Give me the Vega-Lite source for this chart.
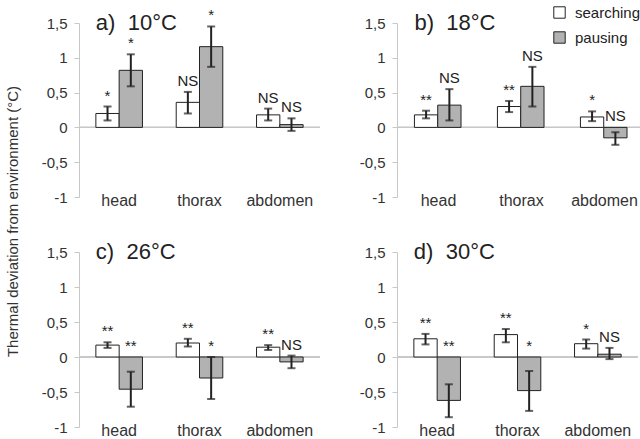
{
  "$schema": "https://vega.github.io/schema/vega-lite/v6.json",
  "background": "white",
  "padding": {"left": 6, "top": 5, "right": 0, "bottom": 0},
  "title": {"text": "Thermal deviation from environment (°C)", "orient": "left", "anchor": "middle", "fontSize": 15, "fontWeight": "normal", "color": "#333", "font": "Liberation Sans", "offset": 20},
  "config": {
    "font": "Liberation Sans",
    "view": {"stroke": null},
    "axisY": {"values": [-1, -0.5, 0, 0.5, 1, 1.5], "labelExpr": "replace(toString(datum.value), '.', ',')", "grid": false, "domainColor": "#c8c8c8", "tickColor": "#c8c8c8", "tickSize": 5, "labelFontSize": 15, "labelColor": "#333", "title": null, "labelPadding": 7},
    "axisX": {"domain": false, "ticks": false, "labelFontSize": 16, "labelColor": "#333", "title": null, "labelAngle": 0, "labelPadding": -5},
    "legend": {"orient": "none", "legendX": 473, "legendY": -18, "title": null, "symbolType": "square", "symbolSize": 130, "symbolStrokeColor": "#222", "symbolStrokeWidth": 1, "labelFontSize": 15, "labelColor": "#222", "rowPadding": 8, "labelOffset": 8, "labelLimit": 200},
    "concat": {"spacing": {"row": 33, "column": 38}}
  },
  "data": {"values": [
    {"panel": "a", "heading": "a)\u00a0\u00a010°C", "part": "head", "behaviour": "searching", "value": 0.20, "lo": 0.10, "hi": 0.30, "sig": "*"},
    {"panel": "a", "heading": "a)\u00a0\u00a010°C", "part": "head", "behaviour": "pausing", "value": 0.82, "lo": 0.59, "hi": 1.05, "sig": "*"},
    {"panel": "a", "heading": "a)\u00a0\u00a010°C", "part": "thorax", "behaviour": "searching", "value": 0.36, "lo": 0.20, "hi": 0.51, "sig": "NS"},
    {"panel": "a", "heading": "a)\u00a0\u00a010°C", "part": "thorax", "behaviour": "pausing", "value": 1.16, "lo": 0.87, "hi": 1.45, "sig": "*"},
    {"panel": "a", "heading": "a)\u00a0\u00a010°C", "part": "abdomen", "behaviour": "searching", "value": 0.18, "lo": 0.10, "hi": 0.27, "sig": "NS"},
    {"panel": "a", "heading": "a)\u00a0\u00a010°C", "part": "abdomen", "behaviour": "pausing", "value": 0.04, "lo": -0.05, "hi": 0.13, "sig": "NS"},
    {"panel": "b", "heading": "b)\u00a0\u00a018°C", "part": "head", "behaviour": "searching", "value": 0.18, "lo": 0.13, "hi": 0.24, "sig": "**"},
    {"panel": "b", "heading": "b)\u00a0\u00a018°C", "part": "head", "behaviour": "pausing", "value": 0.32, "lo": 0.10, "hi": 0.55, "sig": "NS"},
    {"panel": "b", "heading": "b)\u00a0\u00a018°C", "part": "thorax", "behaviour": "searching", "value": 0.30, "lo": 0.22, "hi": 0.38, "sig": "**"},
    {"panel": "b", "heading": "b)\u00a0\u00a018°C", "part": "thorax", "behaviour": "pausing", "value": 0.59, "lo": 0.30, "hi": 0.87, "sig": "NS"},
    {"panel": "b", "heading": "b)\u00a0\u00a018°C", "part": "abdomen", "behaviour": "searching", "value": 0.15, "lo": 0.09, "hi": 0.23, "sig": "*"},
    {"panel": "b", "heading": "b)\u00a0\u00a018°C", "part": "abdomen", "behaviour": "pausing", "value": -0.15, "lo": -0.25, "hi": -0.07, "sig": "NS"},
    {"panel": "c", "heading": "c)\u00a0\u00a026°C", "part": "head", "behaviour": "searching", "value": 0.17, "lo": 0.13, "hi": 0.21, "sig": "**"},
    {"panel": "c", "heading": "c)\u00a0\u00a026°C", "part": "head", "behaviour": "pausing", "value": -0.46, "lo": -0.71, "hi": -0.21, "sig": "**"},
    {"panel": "c", "heading": "c)\u00a0\u00a026°C", "part": "thorax", "behaviour": "searching", "value": 0.20, "lo": 0.15, "hi": 0.26, "sig": "**"},
    {"panel": "c", "heading": "c)\u00a0\u00a026°C", "part": "thorax", "behaviour": "pausing", "value": -0.30, "lo": -0.60, "hi": 0.00, "sig": "*"},
    {"panel": "c", "heading": "c)\u00a0\u00a026°C", "part": "abdomen", "behaviour": "searching", "value": 0.14, "lo": 0.10, "hi": 0.17, "sig": "**"},
    {"panel": "c", "heading": "c)\u00a0\u00a026°C", "part": "abdomen", "behaviour": "pausing", "value": -0.07, "lo": -0.16, "hi": 0.02, "sig": "NS"},
    {"panel": "d", "heading": "d)\u00a0\u00a030°C", "part": "head", "behaviour": "searching", "value": 0.26, "lo": 0.18, "hi": 0.33, "sig": "**"},
    {"panel": "d", "heading": "d)\u00a0\u00a030°C", "part": "head", "behaviour": "pausing", "value": -0.62, "lo": -0.86, "hi": -0.39, "sig": "**"},
    {"panel": "d", "heading": "d)\u00a0\u00a030°C", "part": "thorax", "behaviour": "searching", "value": 0.32, "lo": 0.21, "hi": 0.40, "sig": "**"},
    {"panel": "d", "heading": "d)\u00a0\u00a030°C", "part": "thorax", "behaviour": "pausing", "value": -0.48, "lo": -0.77, "hi": -0.20, "sig": "*"},
    {"panel": "d", "heading": "d)\u00a0\u00a030°C", "part": "abdomen", "behaviour": "searching", "value": 0.19, "lo": 0.12, "hi": 0.25, "sig": "*"},
    {"panel": "d", "heading": "d)\u00a0\u00a030°C", "part": "abdomen", "behaviour": "pausing", "value": 0.04, "lo": -0.03, "hi": 0.13, "sig": "NS"}
  ]},
  "columns": 2,
  "concat": [
    {
      "width": 241, "height": 174,
      "transform": [{"filter": "datum.panel == 'a'"}, {"calculate": "max(datum.hi, 0)", "as": "labelPos"}],
      "encoding": {
        "x": {"field": "part", "type": "nominal", "sort": ["head", "thorax", "abdomen"], "scale": {"domain": ["head", "thorax", "abdomen"], "paddingInner": 0.42, "paddingOuter": 0.21}},
        "xOffset": {"field": "behaviour", "type": "nominal", "sort": ["searching", "pausing"], "scale": {"domain": ["searching", "pausing"], "paddingInner": 0, "paddingOuter": 0}}
      },
      "layer": [
        {"mark": {"type": "rule", "color": "#c8c8c8", "strokeWidth": 1}, "encoding": {"x": null, "xOffset": null, "y": {"datum": 0, "type": "quantitative", "scale": {"domain": [-1, 1.5], "nice": false, "zero": false}}}},
        {"mark": {"type": "bar", "stroke": "#222", "strokeWidth": 1}, "encoding": {"y": {"field": "value", "type": "quantitative", "scale": {"domain": [-1, 1.5], "nice": false}}, "y2": {"datum": 0}, "fill": {"field": "behaviour", "type": "nominal", "scale": {"domain": ["searching", "pausing"], "range": ["#ffffff", "#b2b2b2"]}}}},
        {"mark": {"type": "rule", "color": "#222", "strokeWidth": 2}, "encoding": {"y": {"field": "lo", "type": "quantitative"}, "y2": {"field": "hi"}}},
        {"mark": {"type": "tick", "color": "#222", "size": 8, "thickness": 2}, "encoding": {"y": {"field": "lo", "type": "quantitative"}}},
        {"mark": {"type": "tick", "color": "#222", "size": 8, "thickness": 2}, "encoding": {"y": {"field": "hi", "type": "quantitative"}}},
        {"mark": {"type": "text", "fontSize": 15, "color": "#222", "baseline": "bottom", "dy": -3}, "encoding": {"y": {"field": "labelPos", "type": "quantitative"}, "text": {"field": "sig"}}},
        {"transform": [{"filter": "datum.part == 'head' && datum.behaviour == 'searching'"}], "mark": {"type": "text", "fontSize": 22, "color": "#222", "align": "left", "baseline": "middle", "dx": 0}, "encoding": {"x": {"field": "part", "type": "nominal", "bandPosition": 0}, "xOffset": null, "y": {"datum": 1.5, "type": "quantitative"}, "text": {"field": "heading"}}}
      ]
    },
    {
      "width": 249, "height": 174,
      "transform": [{"filter": "datum.panel == 'b'"}, {"calculate": "max(datum.hi, 0)", "as": "labelPos"}],
      "encoding": {
        "x": {"field": "part", "type": "nominal", "sort": ["head", "thorax", "abdomen"], "scale": {"domain": ["head", "thorax", "abdomen"], "paddingInner": 0.42, "paddingOuter": 0.21}},
        "xOffset": {"field": "behaviour", "type": "nominal", "sort": ["searching", "pausing"], "scale": {"domain": ["searching", "pausing"], "paddingInner": 0, "paddingOuter": 0}}
      },
      "layer": [
        {"mark": {"type": "rule", "color": "#c8c8c8", "strokeWidth": 1}, "encoding": {"x": null, "xOffset": null, "y": {"datum": 0, "type": "quantitative", "scale": {"domain": [-1, 1.5], "nice": false, "zero": false}}}},
        {"mark": {"type": "bar", "stroke": "#222", "strokeWidth": 1}, "encoding": {"y": {"field": "value", "type": "quantitative", "scale": {"domain": [-1, 1.5], "nice": false}}, "y2": {"datum": 0}, "fill": {"field": "behaviour", "type": "nominal", "scale": {"domain": ["searching", "pausing"], "range": ["#ffffff", "#b2b2b2"]}}}},
        {"mark": {"type": "rule", "color": "#222", "strokeWidth": 2}, "encoding": {"y": {"field": "lo", "type": "quantitative"}, "y2": {"field": "hi"}}},
        {"mark": {"type": "tick", "color": "#222", "size": 8, "thickness": 2}, "encoding": {"y": {"field": "lo", "type": "quantitative"}}},
        {"mark": {"type": "tick", "color": "#222", "size": 8, "thickness": 2}, "encoding": {"y": {"field": "hi", "type": "quantitative"}}},
        {"mark": {"type": "text", "fontSize": 15, "color": "#222", "baseline": "bottom", "dy": -3}, "encoding": {"y": {"field": "labelPos", "type": "quantitative"}, "text": {"field": "sig"}}},
        {"transform": [{"filter": "datum.part == 'head' && datum.behaviour == 'searching'"}], "mark": {"type": "text", "fontSize": 22, "color": "#222", "align": "left", "baseline": "middle", "dx": 0}, "encoding": {"x": {"field": "part", "type": "nominal", "bandPosition": 0}, "xOffset": null, "y": {"datum": 1.5, "type": "quantitative"}, "text": {"field": "heading"}}}
      ]
    },
    {
      "width": 241, "height": 175,
      "transform": [{"filter": "datum.panel == 'c'"}, {"calculate": "max(datum.hi, 0)", "as": "labelPos"}],
      "encoding": {
        "x": {"field": "part", "type": "nominal", "sort": ["head", "thorax", "abdomen"], "scale": {"domain": ["head", "thorax", "abdomen"], "paddingInner": 0.42, "paddingOuter": 0.21}},
        "xOffset": {"field": "behaviour", "type": "nominal", "sort": ["searching", "pausing"], "scale": {"domain": ["searching", "pausing"], "paddingInner": 0, "paddingOuter": 0}}
      },
      "layer": [
        {"mark": {"type": "rule", "color": "#c8c8c8", "strokeWidth": 1}, "encoding": {"x": null, "xOffset": null, "y": {"datum": 0, "type": "quantitative", "scale": {"domain": [-1, 1.5], "nice": false, "zero": false}}}},
        {"mark": {"type": "bar", "stroke": "#222", "strokeWidth": 1}, "encoding": {"y": {"field": "value", "type": "quantitative", "scale": {"domain": [-1, 1.5], "nice": false}}, "y2": {"datum": 0}, "fill": {"field": "behaviour", "type": "nominal", "scale": {"domain": ["searching", "pausing"], "range": ["#ffffff", "#b2b2b2"]}}}},
        {"mark": {"type": "rule", "color": "#222", "strokeWidth": 2}, "encoding": {"y": {"field": "lo", "type": "quantitative"}, "y2": {"field": "hi"}}},
        {"mark": {"type": "tick", "color": "#222", "size": 8, "thickness": 2}, "encoding": {"y": {"field": "lo", "type": "quantitative"}}},
        {"mark": {"type": "tick", "color": "#222", "size": 8, "thickness": 2}, "encoding": {"y": {"field": "hi", "type": "quantitative"}}},
        {"mark": {"type": "text", "fontSize": 15, "color": "#222", "baseline": "bottom", "dy": -3}, "encoding": {"y": {"field": "labelPos", "type": "quantitative"}, "text": {"field": "sig"}}},
        {"transform": [{"filter": "datum.part == 'head' && datum.behaviour == 'searching'"}], "mark": {"type": "text", "fontSize": 22, "color": "#222", "align": "left", "baseline": "middle", "dx": 0}, "encoding": {"x": {"field": "part", "type": "nominal", "bandPosition": 0}, "xOffset": null, "y": {"datum": 1.5, "type": "quantitative"}, "text": {"field": "heading"}}}
      ]
    },
    {
      "width": 241, "height": 175,
      "transform": [{"filter": "datum.panel == 'd'"}, {"calculate": "max(datum.hi, 0)", "as": "labelPos"}],
      "encoding": {
        "x": {"field": "part", "type": "nominal", "sort": ["head", "thorax", "abdomen"], "scale": {"domain": ["head", "thorax", "abdomen"], "paddingInner": 0.42, "paddingOuter": 0.21}},
        "xOffset": {"field": "behaviour", "type": "nominal", "sort": ["searching", "pausing"], "scale": {"domain": ["searching", "pausing"], "paddingInner": 0, "paddingOuter": 0}}
      },
      "layer": [
        {"mark": {"type": "rule", "color": "#c8c8c8", "strokeWidth": 1}, "encoding": {"x": null, "xOffset": null, "y": {"datum": 0, "type": "quantitative", "scale": {"domain": [-1, 1.5], "nice": false, "zero": false}}}},
        {"mark": {"type": "bar", "stroke": "#222", "strokeWidth": 1}, "encoding": {"y": {"field": "value", "type": "quantitative", "scale": {"domain": [-1, 1.5], "nice": false}}, "y2": {"datum": 0}, "fill": {"field": "behaviour", "type": "nominal", "scale": {"domain": ["searching", "pausing"], "range": ["#ffffff", "#b2b2b2"]}}}},
        {"mark": {"type": "rule", "color": "#222", "strokeWidth": 2}, "encoding": {"y": {"field": "lo", "type": "quantitative"}, "y2": {"field": "hi"}}},
        {"mark": {"type": "tick", "color": "#222", "size": 8, "thickness": 2}, "encoding": {"y": {"field": "lo", "type": "quantitative"}}},
        {"mark": {"type": "tick", "color": "#222", "size": 8, "thickness": 2}, "encoding": {"y": {"field": "hi", "type": "quantitative"}}},
        {"mark": {"type": "text", "fontSize": 15, "color": "#222", "baseline": "bottom", "dy": -3}, "encoding": {"y": {"field": "labelPos", "type": "quantitative"}, "text": {"field": "sig"}}},
        {"transform": [{"filter": "datum.part == 'head' && datum.behaviour == 'searching'"}], "mark": {"type": "text", "fontSize": 22, "color": "#222", "align": "left", "baseline": "middle", "dx": 0}, "encoding": {"x": {"field": "part", "type": "nominal", "bandPosition": 0}, "xOffset": null, "y": {"datum": 1.5, "type": "quantitative"}, "text": {"field": "heading"}}}
      ]
    }
  ]
}
